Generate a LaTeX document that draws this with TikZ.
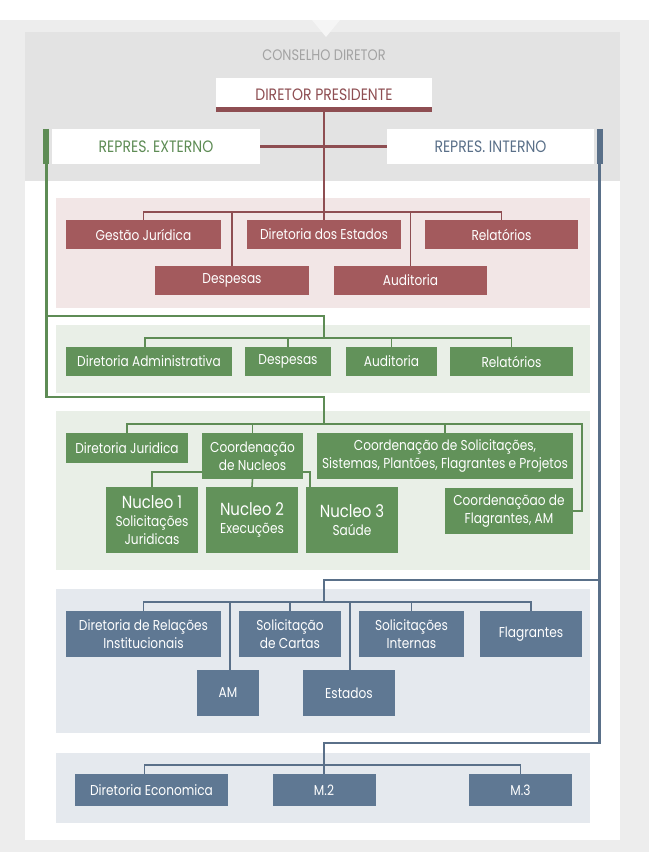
\documentclass[tikz,border=0pt]{standalone}
\usepackage{fontspec}
\setmainfont{Poppins}[FakeStretch=0.85]
\definecolor{outerbg}{HTML}{EDEDED}
\definecolor{notchbg}{HTML}{F5F5F5}
\definecolor{headbg}{HTML}{E3E3E3}
\definecolor{headtxt}{HTML}{A3A3A3}
\definecolor{redbox}{HTML}{A35A5D}
\definecolor{redbg}{HTML}{F2E6E6}
\definecolor{redln}{HTML}{8E4E52}
\definecolor{greenbox}{HTML}{62925A}
\definecolor{greenbg}{HTML}{E9EFE7}
\definecolor{greenln}{HTML}{5E8C55}
\definecolor{bluebox}{HTML}{5F7893}
\definecolor{bluebg}{HTML}{E5E9EE}
\definecolor{blueln}{HTML}{5A7089}
\newcommand\biglabel[1]{{\fontsize{17.5}{19}\selectfont #1}}

\begin{document}
\begin{tikzpicture}[x=1pt,y=-1pt,
    orgbox/.style={inner sep=0pt,align=center,text=white,font=\fontsize{14.3}{18}\selectfont},
    redunit/.style={orgbox,fill=redbox,minimum height=29},
    greenunit/.style={orgbox,fill=greenbox},
    blueunit/.style={orgbox,fill=bluebox},
    headbox/.style={fill=white,inner sep=0pt,minimum height=35,font=\fontsize{16.5}{18}\selectfont},
    trunk/.style={line width=2.6pt},
    bus/.style={line width=1.6pt}]
    \useasboundingbox (0,0) rectangle (649,852);
    \fill[outerbg] (0,20) rectangle (649,852);
    \fill[white] (25,32) rectangle (620,840);
    \fill[headbg] (25,32) rectangle (620,181);
    \fill[notchbg] (312,20) -- (340,20) -- (326,37) -- cycle;
    \fill[redbg] (56,198) rectangle (590,308);
    \fill[greenbg] (56,325) rectangle (590,393);
    \fill[greenbg] (56,411) rectangle (590,570);
    \fill[bluebg] (56,589) rectangle (590,733);
    \fill[bluebg] (56,753) rectangle (590,823);

    \node[font=\fontsize{15.2}{17}\selectfont, text=headtxt] (conselho) at (324,55) {CONSELHO DIRETOR};
    \node[headbox, minimum width=216, minimum height=34, text=redln] (dirpres) at (324,95) {DIRETOR PRESIDENTE};
    \node[headbox, minimum width=208, text=greenln] (repext) at (156,146.5) {REPRES. EXTERNO};
    \node[headbox, minimum width=207, text=blueln] (repint) at (490.5,146.5) {REPRES. INTERNO};

    \begin{scope}[every node/.style={redunit}]
        \node[minimum width=155] (gestao) at (143.5,234.5) {Gestão Jurídica};
        \node[minimum width=154] (direst) at (324,234.5) {Diretoria dos Estados};
        \node[minimum width=153] (relat) at (501.5,234.5) {Relatórios};
        \node[minimum width=154] (desp) at (232,280.5) {Despesas};
        \node[minimum width=153] (audit) at (410.5,280.5) {Auditoria};
    \end{scope}

    \begin{scope}[every node/.style={greenunit,minimum height=29}]
        \node[minimum width=166] (diradm) at (149,361.5) {Diretoria Administrativa};
        \node[minimum width=86] (desp2) at (288,361.5) {Despesas};
        \node[minimum width=91] (audit2) at (391.5,361.5) {Auditoria};
        \node[minimum width=123] (relat2) at (511.5,361.5) {Relatórios};
    \end{scope}

    \begin{scope}[every node/.style={greenunit,minimum height=46}]
        \node[minimum width=122, minimum height=30] (dirjur) at (127,448) {Diretoria Juridica};
        \node[minimum width=101] (coordnuc) at (252.5,456) {Coordenação\\de Nucleos};
        \node[minimum width=256] (coordsol) at (445,456) {Coordenação de Solicitações,\\Sistemas, Plantões, Flagrantes e Projetos};
        \node[minimum width=128] (coordflag) at (509,511) {Coordenaçõao de\\Flagrantes, AM};
        \node[minimum width=92, minimum height=66] (nuc1) at (152,520) {\biglabel{Nucleo 1}\\Solicitações\\Juridicas};
        \node[minimum width=92, minimum height=66] (nuc2) at (252,520) {\biglabel{Nucleo 2}\\Execuções};
        \node[minimum width=92, minimum height=66] (nuc3) at (352,520) {\biglabel{Nucleo 3}\\Saúde};
    \end{scope}

    \begin{scope}[every node/.style={blueunit,minimum height=46}]
        \node[minimum width=155] (dirrel) at (143.5,634) {Diretoria de Relações\\Institucionais};
        \node[minimum width=102] (solcart) at (290,634) {Solicitação\\de Cartas};
        \node[minimum width=105] (solint) at (411.5,634) {Solicitações\\Internas};
        \node[minimum width=102] (flag) at (531,634) {Flagrantes};
        \node[minimum width=62] (am) at (228,693) {AM};
        \node[minimum width=92] (estados) at (349,693) {Estados};
        \node[minimum width=153, minimum height=32] (direco) at (151.5,790) {Diretoria Economica};
        \node[minimum width=103, minimum height=32] (m2) at (324,790) {M.2};
        \node[minimum width=103, minimum height=32] (m3) at (520.5,790) {M.3};
    \end{scope}

    \coordinate (rbus) at (324,212);
    \coordinate (g2) at (324,316);
    \coordinate (gbus2) at (324,338);
    \coordinate (g3) at (324,397);
    \coordinate (gbus3) at (324,424);
    \coordinate (b1) at (324,580);
    \coordinate (bbus1) at (324,602);
    \coordinate (b2) at (324,743);
    \coordinate (bbus2) at (324,765);

    \draw[redln, line width=5pt] ([yshift=2.5pt]dirpres.south west) -- ([yshift=2.5pt]dirpres.south east);
    \draw[redln, trunk] (dirpres.south) -- (direst.north);
    \draw[redln, trunk] (repext.east) -- (repint.west);
    \draw[redln, bus] (gestao.north) |- (rbus) -| (relat.north);
    \draw[redln, bus] (desp.north) -- (desp.north |- rbus);
    \draw[redln, bus] (audit.north) -- (audit.north |- rbus);

    \draw[greenln, line width=6pt] ([xshift=-5.5pt]repext.north west) -- ([xshift=-5.5pt]repext.south west);
    \draw[greenln, trunk] ([xshift=-5.5pt]repext.south west) |- (g3) -- (gbus3);
    \draw[greenln, trunk] ([xshift=-5.5pt]repext.south west) |- (g2) -- (gbus2);
    \draw[greenln, bus] ([xshift=-4pt]diradm.north) |- (gbus2) -| (relat2.north);
    \draw[greenln, bus] (desp2.north) -- (desp2.north |- gbus2);
    \draw[greenln, bus] (audit2.north) -- (audit2.north |- gbus2);
    \draw[greenln, bus] (dirjur.north) |- (gbus3) -| ([xshift=9pt]coordflag.east) -- (coordflag.east);
    \draw[greenln, bus] (coordnuc.north) -- (coordnuc.north |- gbus3);
    \draw[greenln, bus] (coordsol.north) -- (coordsol.north |- gbus3);
    \draw[greenln, bus] ([yshift=7pt]coordnuc.south west) -| (nuc1.north);
    \draw[greenln, bus] (coordnuc.south) -- (nuc2.north);
    \draw[greenln, bus] ([yshift=7pt]coordnuc.south east) -| ([xshift=4pt]nuc3.north west);

    \draw[blueln, line width=6pt] ([xshift=5.5pt]repint.north east) -- ([xshift=5.5pt]repint.south east);
    \draw[blueln, trunk] ([xshift=5.5pt]repint.south east) |- (b2) -- (bbus2);
    \draw[blueln, trunk] ([xshift=5.5pt]repint.south east) |- (b1) -- (bbus1);
    \draw[blueln, bus] (dirrel.north) |- (bbus1) -| (flag.north);
    \draw[blueln, bus] (solcart.north) -- (solcart.north |- bbus1);
    \draw[blueln, bus] (solint.north) -- (solint.north |- bbus1);
    \draw[blueln, bus] ([xshift=2pt]am.north) -- ([xshift=2pt]am.north |- bbus1);
    \draw[blueln, bus] ([xshift=1pt]estados.north) -- ([xshift=1pt]estados.north |- bbus1);
    \draw[blueln, bus] ([xshift=-7pt]direco.north) |- (bbus2) -| (m3.north);
    \draw[blueln, bus] (m2.north) -- (bbus2);
\end{tikzpicture}
\end{document}
